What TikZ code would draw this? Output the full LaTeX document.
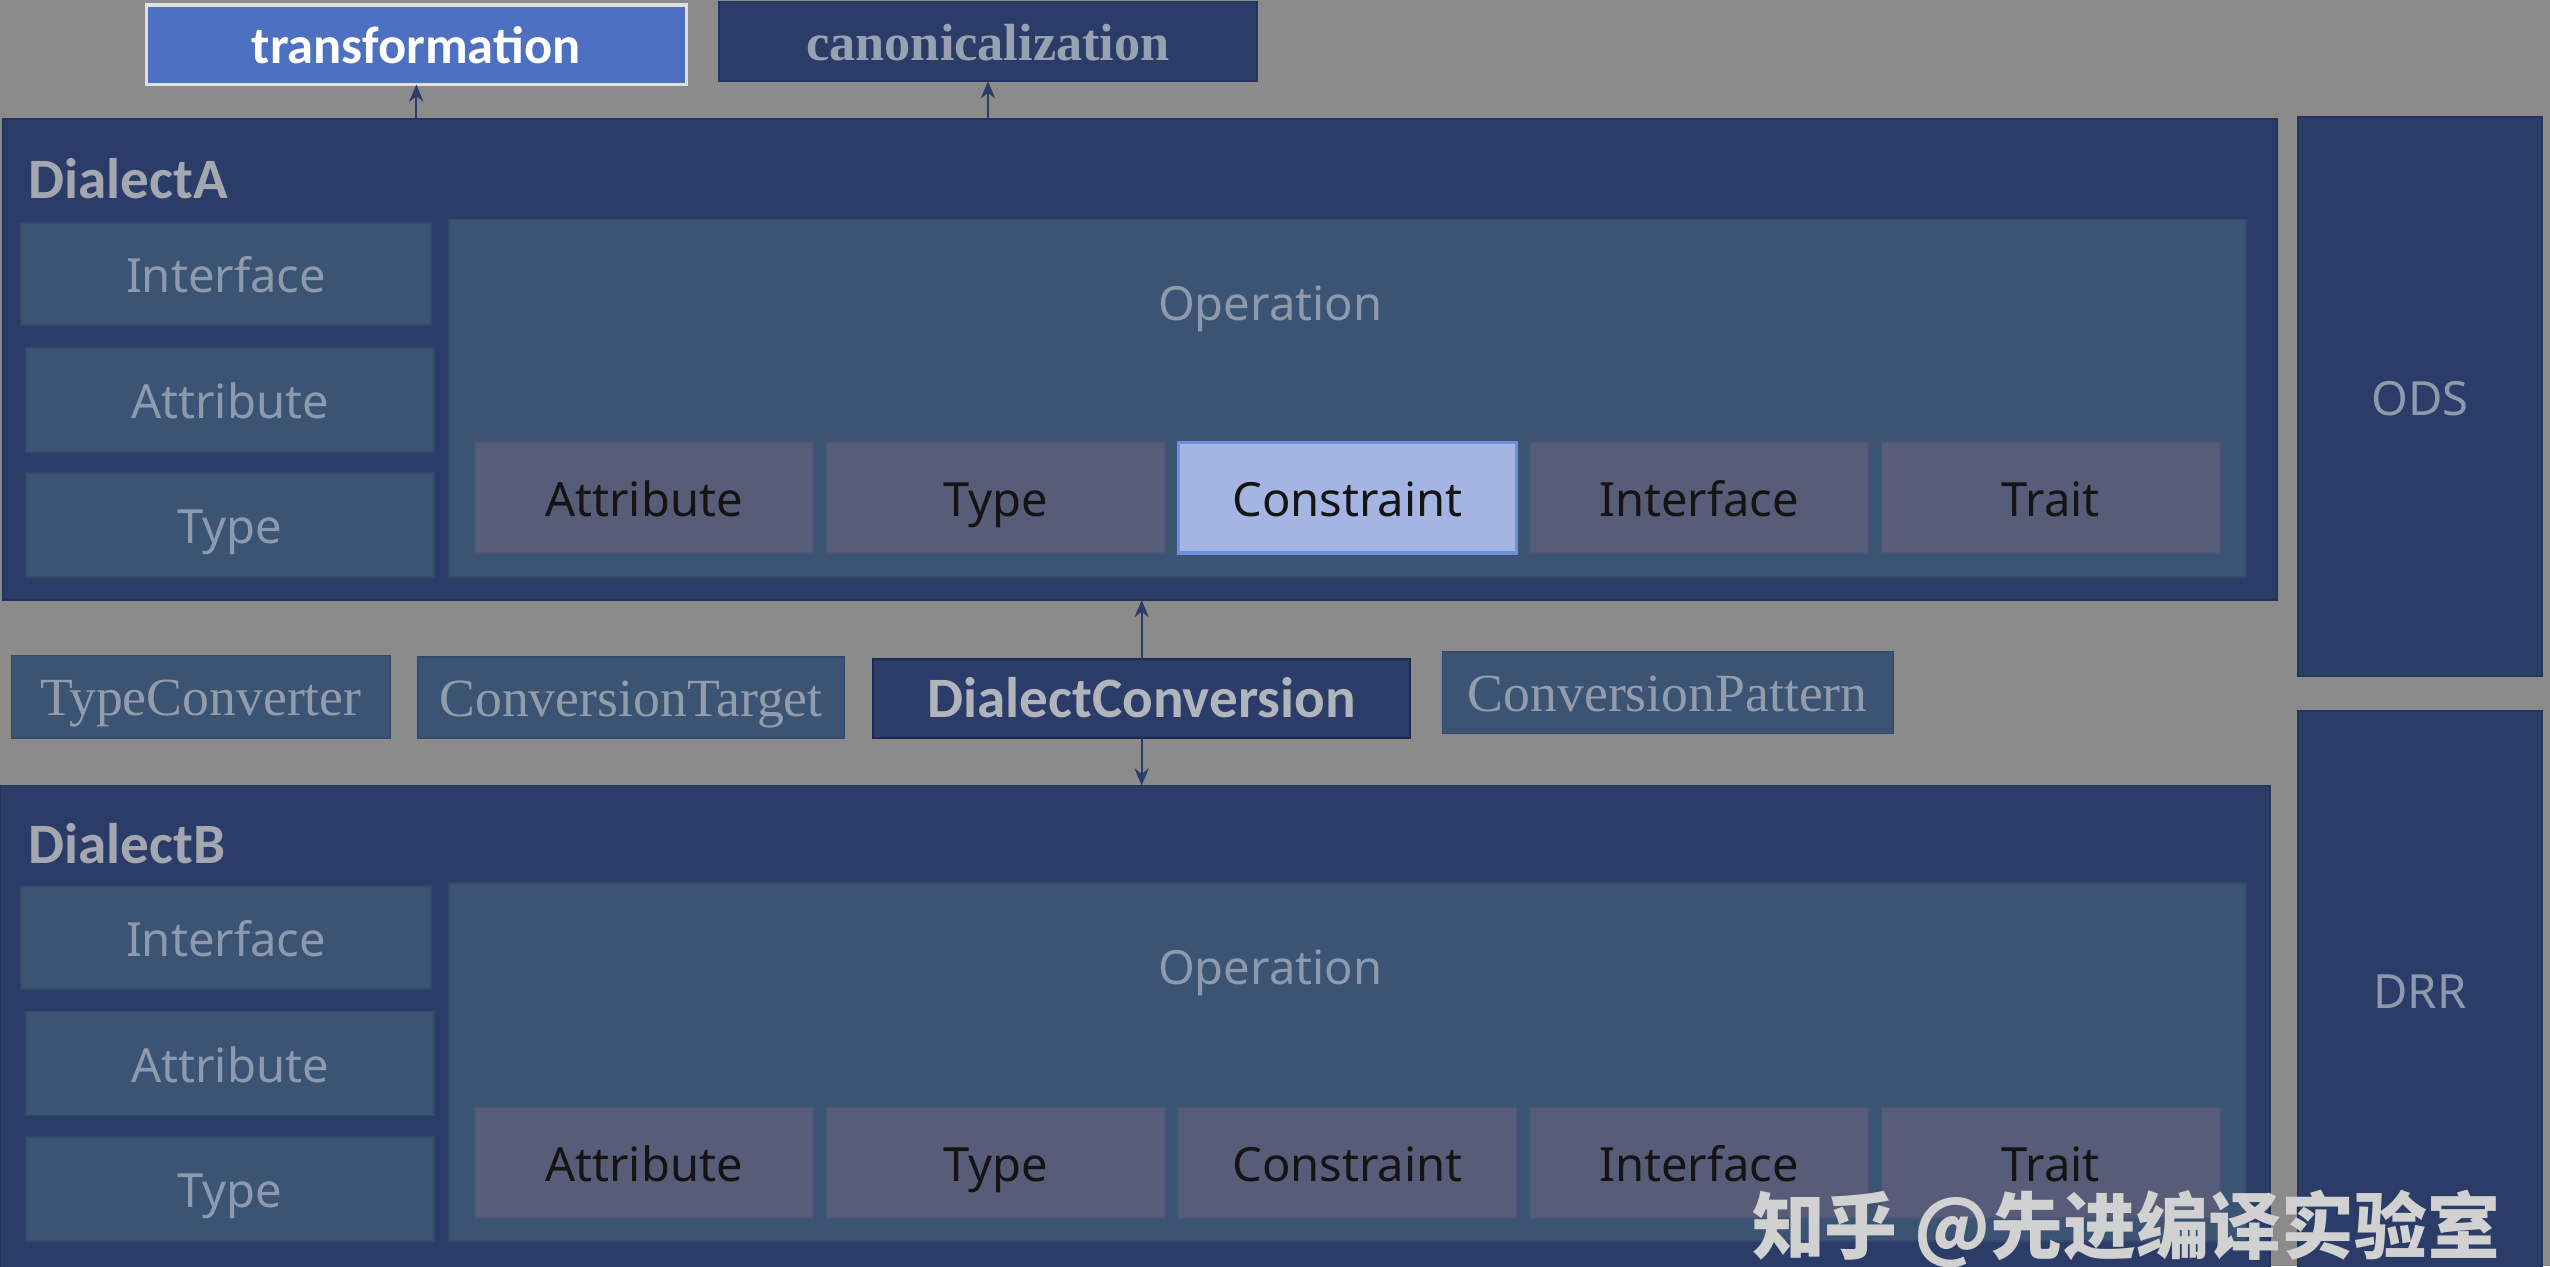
\documentclass[tikz,border=0pt]{standalone}
\usepackage{fontspec}
\setmainfont{Noto Sans}
\newfontfamily\calfont{Carlito}
\newfontfamily\serfont{Liberation Serif}
\newfontfamily\cjkfont{Noto Sans CJK SC}
\usetikzlibrary{arrows.meta}
\definecolor{bggray}{HTML}{8B8B8B}
\definecolor{navy}{HTML}{2B3C69}
\definecolor{navyline}{HTML}{24335C}
\definecolor{slate}{HTML}{3B5473}
\definecolor{slateline}{HTML}{334A6A}
\definecolor{plum}{HTML}{575D79}
\definecolor{plumline}{HTML}{4C5573}
\definecolor{hifill}{HTML}{A5B5E3}
\definecolor{hiline}{HTML}{6E90D8}
\definecolor{tffill}{HTML}{4E70C0}
\definecolor{slatetext}{HTML}{8D9AAD}
\definecolor{lbltext}{HTML}{A4A7B0}
\definecolor{sertext}{HTML}{939CAB}

\begin{document}
\begin{tikzpicture}[x=0.02cm,y=-0.02cm,
  sz/.style 2 args={minimum width=#1*0.02cm,minimum height=#2*0.02cm},
  base/.style={inner sep=0pt,outer sep=0pt,line width=0.6pt,text height=13pt,text depth=0pt},
  dialect/.style={base,fill=navy,draw=navyline},
  uitext/.style={text=slatetext,font=\fontsize{16.5}{19}\selectfont},
  slatebox/.style={base,fill=slate,draw=slateline,uitext},
  opbox/.style={base,sz={208}{68},text=black!92,font=\fontsize{16.5}{19}\selectfont},
  serbox/.style={base,fill=slate,draw=slateline,text=sertext,font=\serfont\fontsize{18.8}{22}\selectfont},
  lbl/.style={anchor=west,inner sep=0pt,text=lbltext,font=\calfont\bfseries\fontsize{20}{24}\selectfont},
  arr/.style={-{Stealth[length=6pt,width=5pt]},line width=0.8pt,draw=navy}]
\useasboundingbox (0,0) rectangle (1568,778.5);
\fill[bggray] (0,0) rectangle (1568,778.5);

% top passes
\node[base,fill=tffill,draw=white!88!black,line width=1.2pt,sz={332}{49},text=white,
  font=\calfont\bfseries\fontsize{18.4}{22}\selectfont] (tf) at (256,27.5) {transformation};
\node[dialect,sz={331}{49},text=sertext!95!white,font=\serfont\bfseries\fontsize{18.3}{22}\selectfont]
  (cn) at (607.5,25.5) {canonicalization};

% DialectA
\node[dialect,sz={1398}{296}] (dA) at (701,221) {};
\node[lbl] (dAl) at (17,110) {DialectA};
\node[slatebox,sz={252}{63}] (aIf) at (139,168.5) {Interface};
\node[slatebox,sz={251}{64}] (aAt) at (141.5,246) {Attribute};
\node[slatebox,sz={251}{64}] (aTy) at (141.5,323) {Type};
\node[slatebox,sz={1105}{220}] (opA) at (828.5,245) {};
\node[uitext] (opAl) at (781,190) {Operation};
\foreach \nm/\tx/\fc/\dc/\lw [count=\i from 0] in {at/Attribute/plum/plumline/0.6,
    ty/Type/plum/plumline/0.6, cs/Constraint/hifill/hiline/1.2,
    in/Interface/plum/plumline/0.6, tr/Trait/plum/plumline/0.6}
  \node[opbox,fill=\fc,draw=\dc,line width=\lw pt] (a\nm) at (396+\i*216.25,306) {\tx};

% ODS / DRR
\node[dialect,sz={150}{344},uitext] (ods) at (1488,244) {ODS};
\node[dialect,sz={150}{348}] (drr) at (1488,611) {};
\node[uitext] (drrl) at (1488,610) {DRR};

% conversion row
\node[serbox,sz={233}{51}] (tc) at (123.5,428.5) {TypeConverter};
\node[serbox,sz={262}{50}] (ct) at (388,429) {ConversionTarget};
\node[dialect,draw=navyline!80!black,sz={330}{49},text=lbltext!85!white,
  font=\calfont\bfseries\fontsize{20}{24}\selectfont] (dc) at (702,429.5) {DialectConversion};
\node[serbox,sz={277}{50}] (cp) at (1025.5,426) {ConversionPattern};

% DialectB
\node[dialect,sz={1396}{302}] (dB) at (698,634) {};
\node[lbl] (dBl) at (17,519) {DialectB};
\node[slatebox,sz={252}{63}] (bIf) at (139,576.5) {Interface};
\node[slatebox,sz={251}{64}] (bAt) at (141.5,654) {Attribute};
\node[slatebox,sz={251}{64}] (bTy) at (141.5,731) {Type};
\node[slatebox,sz={1105}{220}] (opB) at (828.5,653) {};
\node[uitext] (opBl) at (781,598) {Operation};
\foreach \nm/\tx [count=\i from 0] in {at/Attribute,ty/Type,cs/Constraint,in/Interface,tr/Trait}
  \node[opbox,fill=plum,draw=plumline] (b\nm) at (396+\i*216.25,715) {\tx};

% connectors
\draw[arr] (tf.south |- dA.north) -- (tf.south);
\draw[arr] (cn.south |- dA.north) -- (cn.south);
\draw[arr] (dc.north) -- (dc.north |- dA.south);
\draw[arr] (dc.south) -- (dc.south |- dB.north);

% watermark
\node[anchor=base west,inner sep=0pt,text=white!82!black,font=\cjkfont\bfseries\fontsize{25.5}{30}\selectfont]
  (wm) at (1077,771) {知乎 @先进编译实验室};
\end{tikzpicture}
\end{document}
